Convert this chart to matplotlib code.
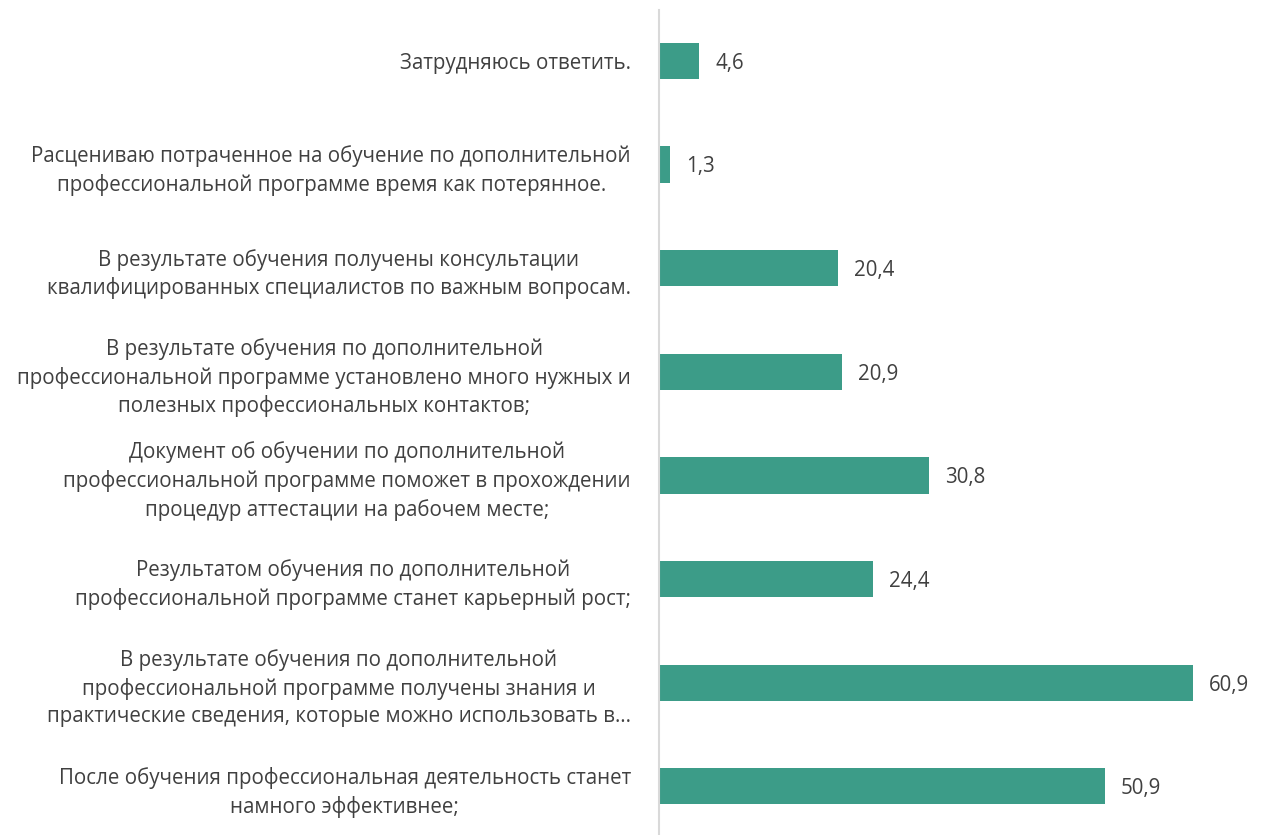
import matplotlib.pyplot as plt

plt.rcParams['font.family'] = ['Open Sans', 'DejaVu Sans']

# bottom to top
labels = [
    "После обучения профессиональная деятельность станет\nнамного эффективнее;",
    "В результате обучения по дополнительной\nпрофессиональной программе получены знания и\nпрактические сведения, которые можно использовать в…",
    "Результатом обучения по дополнительной\nпрофессиональной программе станет карьерный рост;",
    "Документ об обучении по дополнительной\nпрофессиональной программе поможет в прохождении\nпроцедур аттестации на рабочем месте;",
    "В результате обучения по дополнительной\nпрофессиональной программе установлено много нужных и\nполезных профессиональных контактов;",
    "В результате обучения получены консультации\nквалифицированных специалистов по важным вопросам.",
    "Расцениваю потраченное на обучение по дополнительной\nпрофессиональной программе время как потерянное.",
    "Затрудняюсь ответить.",
]
values = [50.9, 60.9, 24.4, 30.8, 20.9, 20.4, 1.3, 4.6]

bar_color = '#3c9c88'
text_color = '#404040'
fsize = 14.8

fig = plt.figure(figsize=(12.62, 8.35), dpi=100)
ax = fig.add_axes([0.522, 0.0, 0.478, 0.988])

pos = list(range(len(values)))
ax.barh(pos, values, height=0.35, color=bar_color)

for y, v in zip(pos, values):
    ax.annotate(f"{v:.1f}".replace('.', ','), (v, y), xytext=(11.5, 0),
                textcoords='offset points', va='center_baseline', ha='left',
                fontsize=fsize, color=text_color)

ax.set_xlim(0, 68.8)
ax.set_ylim(-0.47, 7.49)
ax.set_yticks(pos)
ax.set_yticklabels(labels, fontsize=fsize, color=text_color)
for t in ax.get_yticklabels():
    t.set_multialignment('center')
    t.set_linespacing(1.4)
ax.tick_params(axis='y', length=0, pad=20)
ax.set_xticks([])

for s in ['top', 'right', 'bottom']:
    ax.spines[s].set_visible(False)
ax.spines['left'].set_color('#d9d9d9')
ax.spines['left'].set_linewidth(1.5)

fig.savefig('out.png', dpi=100)
